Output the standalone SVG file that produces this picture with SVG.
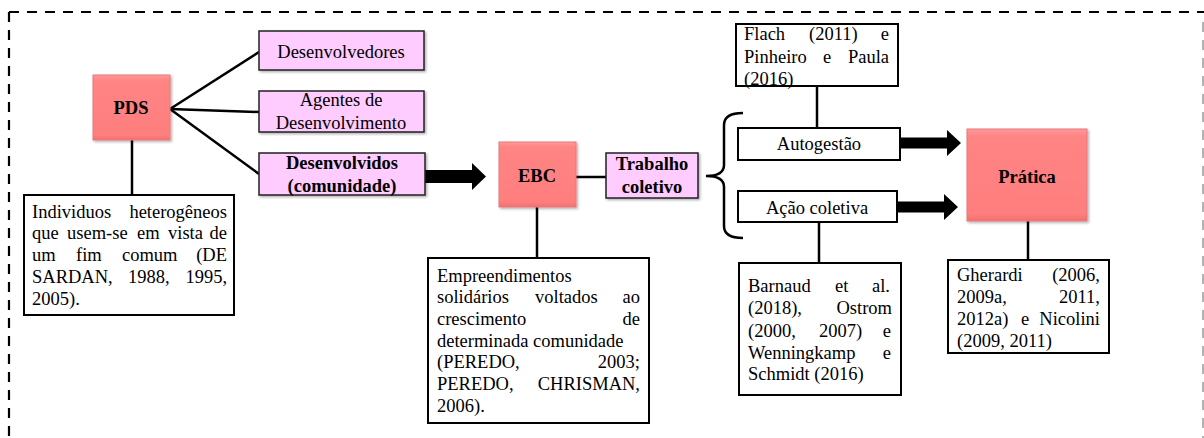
<svg xmlns="http://www.w3.org/2000/svg" width="1204" height="438" viewBox="0 0 1204 438" font-family="'Liberation Serif', 'Times New Roman', 'DejaVu Serif', serif">
<defs>
<linearGradient id="salmon" x1="0" y1="0" x2="0" y2="1">
<stop offset="0" stop-color="#FF9A9A"/>
<stop offset="0.08" stop-color="#FF8484"/>
<stop offset="0.92" stop-color="#FF7E7E"/>
<stop offset="1" stop-color="#F07070"/>
</linearGradient>
<filter id="sh" x="-10%" y="-10%" width="130%" height="130%">
<feDropShadow dx="1.5" dy="1.5" stdDeviation="1" flood-color="#000" flood-opacity="0.3"/>
</filter>
</defs>
<style>
text{font-family:'Liberation Serif','Times New Roman','DejaVu Serif',serif;font-size:18.5px;fill:#000}
.b{font-weight:bold}
.m{text-anchor:middle}
.r{text-anchor:end}
.key{fill:url(#salmon);stroke:#E87878;stroke-width:1;filter:url(#sh)}
.pink{fill:#FFCCFF;stroke:#222;stroke-width:1.5;filter:url(#sh)}
.note{fill:#fff;stroke:#000;stroke-width:2}
.ln{stroke:#000;stroke-width:2.5;fill:none}
.arr{fill:#000}
.frame{stroke:#000;stroke-width:2.2;stroke-dasharray:10 8;fill:none}
</style>
<g id="frame">
<line class="frame" x1="9" y1="12" x2="1204" y2="12"/>
<line class="frame" x1="9" y1="12" x2="9" y2="438"/>
<line x1="1203" y1="22" x2="1203" y2="438" stroke="#999" stroke-width="1.5" stroke-dasharray="10 8"/>
</g>
<g id="connectors">
<line class="ln" x1="170" y1="109" x2="259" y2="52"/>
<line class="ln" x1="170" y1="109" x2="259" y2="112"/>
<line class="ln" x1="170" y1="109" x2="259" y2="174"/>
<line class="ln" x1="132" y1="140" x2="132" y2="195"/>
<polygon class="arr" points="425,170 472,170 472,163 486,176.5 472,190 472,183 425,183"/>
<line class="ln" x1="576" y1="177" x2="606" y2="177"/>
<line class="ln" x1="537" y1="207" x2="537" y2="258"/>
<path class="ln" d="M743,113 Q724,113 724,125 L724,165 Q724,176 706,176 Q724,176 724,187 L724,226 Q724,238 743,238"/>
<line class="ln" x1="817" y1="86" x2="817" y2="128"/>
<line class="ln" x1="819" y1="222" x2="819" y2="263"/>
<polygon class="arr" points="900,137.5 947,137.5 947,130 961,143 947,156 947,148.5 900,148.5"/>
<polygon class="arr" points="897,201.5 944,201.5 944,194 958,207 944,220 944,212.5 897,212.5"/>
<line class="ln" x1="1028" y1="221" x2="1028" y2="260"/>
</g>
<g id="pds">
<rect class="key" x="93" y="75" width="77" height="65"/>
<text class="b m" x="131" y="114">PDS</text>
</g>
<g id="desenvolvedores">
<rect class="pink" x="259" y="31" width="165" height="39"/>
<text class="m" x="341" y="58">Desenvolvedores</text>
</g>
<g id="agentes">
<rect class="pink" x="259" y="91" width="165" height="41"/>
<text class="m" x="341" y="106">Agentes de</text>
<text class="m" x="341" y="129">Desenvolvimento</text>
</g>
<g id="desenvolvidos">
<rect class="pink" x="259" y="153" width="166" height="42"/>
<text class="b m" x="342" y="169">Desenvolvidos</text>
<text class="b m" x="342" y="192">(comunidade)</text>
</g>
<g id="individuos">
<rect class="note" x="24" y="195" width="210" height="120"/>
<text x="32" y="218">Individuos</text><text class="r" x="227" y="218">heterogêneos</text>
<text x="32" y="239">que</text><text x="67" y="239">usem-se</text><text x="137" y="239">em</text><text x="168" y="239">vista</text><text class="r" x="227" y="239">de</text>
<text x="32" y="261">um</text><text x="76" y="261">fim</text><text x="122" y="261">comum</text><text class="r" x="227" y="261">(DE</text>
<text x="32" y="283">SARDAN,</text><text x="128" y="283">1988,</text><text class="r" x="227" y="283">1995,</text>
<text x="32" y="305">2005).</text>
</g>
<g id="ebc">
<rect class="key" x="499" y="142" width="77" height="65"/>
<text class="b m" x="537" y="182">EBC</text>
</g>
<g id="trabalho">
<rect class="pink" x="606" y="153" width="92" height="45"/>
<text class="b m" x="652" y="170">Trabalho</text>
<text class="b m" x="652" y="193">coletivo</text>
</g>
<g id="empreendimentos">
<rect class="note" x="428" y="258" width="221" height="165"/>
<text x="437" y="282">Empreendimentos</text>
<text x="437" y="303">solidários</text><text x="535" y="303">voltados</text><text class="r" x="640" y="303">ao</text>
<text x="437" y="325">crescimento</text><text class="r" x="640" y="325">de</text>
<text x="437" y="347">determinada comunidade</text>
<text x="437" y="368">(PEREDO,</text><text class="r" x="640" y="368">2003;</text>
<text x="437" y="390">PEREDO,</text><text class="r" x="640" y="390">CHRISMAN,</text>
<text x="437" y="412">2006).</text>
</g>
<g id="flach">
<rect class="note" x="736" y="24" width="162" height="62"/>
<text x="744" y="40">Flach</text><text x="809" y="40">(2011)</text><text class="r" x="889" y="40">e</text>
<text x="744" y="63">Pinheiro</text><text x="823" y="63">e</text><text class="r" x="889" y="63">Paula</text>
<text x="744" y="85">(2016)</text>
</g>
<g id="autogestao">
<rect class="note" x="738" y="128" width="162" height="32"/>
<text class="m" x="819" y="150">Autogestão</text>
</g>
<g id="acao">
<rect class="note" x="738" y="191" width="159" height="31"/>
<text class="m" x="817" y="214">Ação coletiva</text>
</g>
<g id="barnaud">
<rect class="note" x="739" y="263" width="162" height="132"/>
<text x="748" y="292">Barnaud</text><text x="835" y="292">et</text><text class="r" x="890" y="292">al.</text>
<text x="748" y="314">(2018),</text><text class="r" x="892" y="314">Ostrom</text>
<text x="748" y="337">(2000,</text><text x="819" y="337">2007)</text><text class="r" x="891" y="337">e</text>
<text x="748" y="359">Wenningkamp</text><text class="r" x="891" y="359">e</text>
<text x="748" y="380">Schmidt (2016)</text>
</g>
<g id="pratica">
<rect class="key" x="967" y="129" width="120" height="92"/>
<text class="b m" x="1027" y="183">Prática</text>
</g>
<g id="gherardi">
<rect class="note" x="948" y="260" width="161" height="93"/>
<text x="957" y="281">Gherardi</text><text class="r" x="1100" y="281">(2006,</text>
<text x="957" y="303">2009a,</text><text class="r" x="1100" y="303">2011,</text>
<text x="957" y="325">2012a)</text><text x="1021" y="325">e</text><text class="r" x="1100" y="325">Nicolini</text>
<text x="957" y="347">(2009, 2011)</text>
</g>
</svg>
